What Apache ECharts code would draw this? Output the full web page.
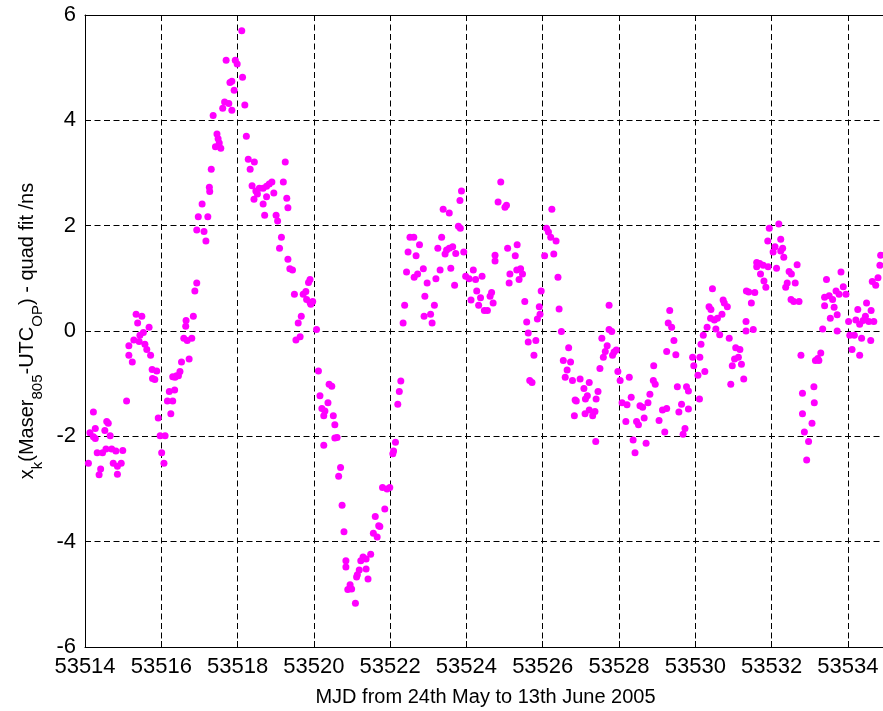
<!DOCTYPE html>
<html><head><meta charset="utf-8">
<script src="https://cdn.jsdelivr.net/npm/echarts@6/dist/echarts.min.js"></script>
<style>html,body{margin:0;padding:0;background:#fff}#c{width:883px;height:711px}</style>
</head><body><div id="c"></div>
<script>
// MJD of each measurement
var mjd = [
53514.09,53514.13,53514.22,53514.22,53514.27,53514.27,53514.32,53514.37,53514.41,53514.46,
53514.52,53514.55,53514.57,53514.61,53514.66,53514.70,53514.74,53514.81,53514.85,53514.85,
53514.95,53514.99,53515.09,53515.15,53515.15,53515.24,53515.28,53515.34,53515.38,53515.42,
53515.44,53515.49,53515.53,53515.57,53515.62,53515.68,53515.72,53515.76,53515.77,53515.83,
53515.88,53515.92,53515.97,53516.01,53516.07,53516.10,53516.16,53516.21,53516.25,53516.30,
53516.30,53516.35,53516.36,53516.40,53516.45,53516.49,53516.53,53516.59,53516.64,53516.65,
53516.68,53516.73,53516.80,53516.84,53516.88,53516.93,53516.93,53516.97,53517.07,53517.12,
53517.17,53517.22,53517.26,53517.27,53517.31,53517.36,53517.42,53517.46,53517.49,53517.52,
53517.56,53517.61,53517.66,53517.70,53517.77,53517.80,53517.85,53517.85,53517.91,53517.94,
53517.99,53518.11,53518.13,53518.19,53518.23,53518.28,53518.33,53518.38,53518.43,53518.44,
53518.48,53518.52,53518.57,53518.67,53518.67,53518.71,53518.76,53518.76,53518.83,53518.90,
53518.95,53519.01,53519.05,53519.10,53519.15,53519.20,53519.25,53519.29,53519.32,53519.32,
53519.37,53519.44,53519.49,53519.53,53519.59,53519.64,53519.67,53519.72,53519.79,53519.81,
53519.86,53519.90,53519.90,53519.92,53519.97,53520.07,53520.12,53520.16,53520.21,53520.26,
53520.26,53520.29,53520.37,53520.40,53520.47,53520.51,53520.55,53520.55,53520.61,53520.65,
53520.70,53520.74,53520.79,53520.84,53520.84,53520.89,53520.95,53520.99,53521.09,53521.12,
53521.14,53521.19,53521.23,53521.29,53521.37,53521.37,53521.42,53521.49,53521.56,53521.61,
53521.66,53521.70,53521.73,53521.86,53521.80,53521.92,53521.99,53522.07,53522.09,53522.14,
53522.20,53522.24,53522.28,53522.34,53522.38,53522.43,53522.47,53522.52,53522.62,53522.63,
53522.68,53522.72,53522.77,53522.87,53522.89,53522.91,53522.97,53523.06,53523.10,53523.16,
53523.20,53523.25,53523.31,53523.35,53523.39,53523.44,53523.48,53523.55,53523.55,53523.59,
53523.64,53523.69,53523.72,53523.79,53523.84,53523.83,53523.87,53523.93,53523.98,53524.07,
53524.12,53524.18,53524.24,53524.27,53524.32,53524.37,53524.41,53524.47,53524.55,53524.62,
53524.66,53524.70,53524.75,53524.75,53524.83,53524.90,53525.01,53525.05,53525.08,53525.12,
53525.14,53525.28,53525.32,53525.33,53525.38,53525.42,53525.47,53525.53,53525.58,53525.62,
53525.62,53525.66,53525.72,53525.77,53525.82,53525.86,53525.91,53525.93,53525.96,53526.05,
53526.10,53526.15,53526.21,53526.24,53526.29,53526.35,53526.40,53526.43,53526.49,53526.54,
53526.59,53526.64,53526.68,53526.73,53526.78,53526.85,53526.98,53527.08,53527.22,53526.88,
53526.83,53527.11,53527.12,53527.17,53527.22,53527.31,53527.37,53527.39,53527.40,53527.45,
53527.50,53527.55,53527.59,53527.64,53527.69,53527.74,53527.74,53527.81,53527.83,53527.87,
53527.93,53527.97,53528.03,53528.08,53528.18,53528.21,53528.27,53528.32,53528.37,53528.42,
53528.46,53528.51,53528.55,53528.62,53528.66,53528.71,53528.76,53528.81,53528.90,53528.91,
53528.95,53529.05,53529.14,53529.20,53529.25,53529.25,53529.29,53529.33,53529.38,53529.44,
53529.49,53529.53,53529.57,53529.64,53529.68,53529.73,53529.77,53529.82,53529.82,53529.93,
53529.96,53530.07,53530.11,53530.12,53530.15,53530.21,53530.25,53530.31,53530.36,53530.40,
53530.41,53530.45,53530.50,53530.54,53530.58,53530.64,53530.70,53530.73,53530.76,53530.84,
53530.89,53530.93,53530.97,53531.03,53531.06,53531.13,53531.17,53531.21,53531.27,53531.33,
53531.33,53531.34,53531.40,53531.47,53531.52,53531.56,53531.61,53531.61,53531.69,53531.71,
53531.78,53531.80,53531.85,53531.90,53531.91,53531.94,53532.04,53532.09,53532.13,53532.19,
53532.24,53532.24,53532.29,53532.32,53532.37,53532.41,53532.46,53532.51,53532.52,53532.58,
53532.62,53532.67,53532.72,53532.77,53532.81,53532.81,53532.86,53532.92,53532.97,53533.06,
53533.11,53533.12,53533.15,53533.21,53533.24,53533.29,53533.34,53533.39,53533.39,53533.44,
53533.51,53533.54,53533.60,53533.64,53533.69,53533.72,53533.72,53533.77,53533.82,53533.88,
53533.95,53534.02,53534.05,53534.11,53534.17,53534.21,53534.26,53534.31,53534.31,53534.36,
53534.40,53534.46,53534.49,53534.55,53534.60,53534.61,53534.64,53534.68,53534.73,53534.79,
53534.84,53534.86
];
// Maser 805 - UTC(OP) minus quadratic fit, ns
var offsetNs = [
-2.51,-1.93,-1.54,-2.01,-1.85,-2.04,-2.31,-2.73,-2.62,-2.31,
-1.89,-2.24,-1.72,-1.75,-1.99,-2.24,-2.51,-2.28,-2.57,-2.72,
-2.51,-2.27,-1.33,-0.46,-0.28,-0.59,-0.17,0.32,0.15,-0.20,
-0.08,0.28,-0.03,-0.25,-0.35,0.07,-0.46,-0.73,-0.90,-0.92,
-0.76,-1.65,-1.99,-2.31,-2.51,-1.99,-1.33,-1.15,-1.57,-1.33,
-0.87,-1.12,-0.88,-0.85,-0.85,-0.77,-0.59,-0.14,0.09,0.20,
-0.18,-0.53,-0.14,0.28,0.76,0.91,1.92,2.17,2.41,1.89,
1.71,2.17,2.73,2.65,3.07,4.09,3.50,3.74,3.65,3.57,
3.47,4.23,4.35,5.14,4.32,4.72,4.74,4.19,4.57,5.14,
5.07,5.70,4.82,4.29,3.70,3.26,3.07,2.76,2.50,3.21,
2.66,2.60,2.71,2.71,2.41,2.20,2.75,2.55,2.79,2.83,
2.62,2.20,2.09,1.57,1.78,2.83,3.21,2.52,2.34,1.36,
1.18,1.16,0.70,-0.17,0.15,-0.11,0.28,0.70,0.75,0.60,
0.92,0.98,0.54,0.51,0.56,0.03,-0.76,-1.23,-1.47,-1.61,
-2.17,-1.52,-1.36,-1.01,-1.05,-1.61,-1.78,-2.03,-2.02,-2.76,
-2.59,-3.31,-3.81,-4.36,-4.48,-4.91,-4.82,-4.90,-5.17,-4.67,
-4.63,-4.54,-4.36,-4.29,-4.33,-4.52,-4.71,-4.24,-3.84,-3.52,
-3.91,-3.70,-3.71,-3.38,-2.97,-3.00,-2.97,-2.33,-2.28,-2.11,
-1.39,-1.15,-0.95,0.15,0.49,1.12,1.50,1.78,1.78,1.02,
1.43,1.08,1.64,1.18,0.28,0.66,0.91,0.32,0.15,0.49,
0.99,1.57,1.16,1.78,2.31,1.46,1.54,1.57,2.24,1.19,
1.60,0.87,1.47,1.99,1.95,2.48,2.66,1.50,1.04,0.99,
0.59,1.16,0.98,0.76,0.49,0.63,1.04,0.39,0.39,0.66,
0.73,0.53,1.44,1.33,2.45,2.83,2.35,2.39,1.57,0.91,
1.08,1.43,1.16,1.64,0.98,1.18,1.08,0.56,0.17,-0.04,
-0.21,-0.94,-0.98,-0.46,-0.18,0.23,0.46,0.32,0.76,1.43,
1.95,1.88,1.78,2.31,1.46,1.71,1.02,0.42,-0.01,-0.56,
-0.88,-0.74,-0.32,-0.59,-0.94,-1.31,-0.91,-1.09,-0.98,-1.33,
-1.61,-1.57,-1.29,-1.23,-1.50,-1.61,-1.53,-2.10,-1.29,-1.15,
-0.71,-0.14,-0.50,-0.39,-0.28,0.49,0.03,-0.01,-0.46,-0.40,
-0.36,-0.77,-0.94,-1.36,-1.72,-1.40,-0.88,-1.26,-2.07,-2.31,
-1.72,-1.78,-1.42,-1.45,-1.65,-2.13,-1.36,-1.20,-0.94,-0.66,
-1.01,-1.70,-1.50,-1.92,-1.47,-0.39,0.15,0.39,0.07,-0.18,
-0.45,-1.06,-1.54,-1.39,-1.96,-1.85,-1.06,-1.14,-1.48,-0.50,
-0.66,-0.84,-1.29,-0.50,-0.25,-0.08,-0.77,0.07,0.46,0.24,
0.41,0.80,0.21,0.04,0.24,-0.07,0.32,0.59,0.53,0.46,
-0.14,-1.01,-0.66,-0.53,-0.32,-0.50,-0.35,-0.63,-0.91,0.18,
0.00,0.76,0.74,0.53,0.03,0.73,1.30,1.22,1.28,1.08,
1.25,0.95,0.83,1.71,1.22,1.95,1.50,1.60,1.19,2.03,
1.74,1.52,1.57,1.40,0.83,0.91,1.13,0.60,1.08,0.56,
0.91,1.26,0.56,-0.46,-1.18,-1.57,-1.92,-2.45,-2.10,-1.75,
-1.06,-1.36,-0.56,-0.52,-0.56,-0.42,0.04,0.64,0.48,0.98,
0.67,0.24,0.60,0.45,0.76,0.31,0.00,0.70,1.12,0.84,
0.70,0.18,-0.08,-0.35,-0.08,0.21,0.41,0.13,-0.46,-0.14,
0.20,0.28,0.53,0.18,-0.18,0.39,0.94,0.18,0.87,1.01,
1.25,1.44
];
var xTicks = [53514,53516,53518,53520,53522,53524,53526,53528,53530,53532,53534];
var yTicks = [-6,-4,-2,0,2,4,6];

var pts = mjd.map(function(x, i){ return [x, offsetNs[i]]; });
var FONT = '"Liberation Sans",Arial,sans-serif';
var chart = echarts.init(document.getElementById('c'), null, {renderer:'canvas'});
var dash = {color:'#000', type:[6,3.5], width:1};
chart.setOption({
  animation:false,
  backgroundColor:'#fff',
  grid:{left:85, top:15, width:801, height:632, show:false, containLabel:false, outerBoundsMode:'none'},
  xAxis:[{
    type:'value', min:53514, max:53535, interval:2,
    axisLine:{show:true, onZero:false, lineStyle:{color:'#000'}},
    axisTick:{show:true, inside:true, length:6, lineStyle:{color:'#000'}},
    axisLabel:{color:'#000', fontFamily:FONT, fontSize:22, margin:9, showMaxLabel:false,
      formatter:function(v){ return xTicks.indexOf(v) >= 0 ? String(v) : ''; }},
    splitLine:{show:true, lineStyle:dash},
    name:'MJD from 24th May to 13th June 2005', nameLocation:'middle', nameGap:40,
    nameTextStyle:{color:'#000', fontFamily:FONT, fontSize:20}
  },{
    type:'value', position:'top', min:53514, max:53535, interval:2,
    axisLine:{show:true, onZero:false, lineStyle:{color:'#000'}},
    axisTick:{show:true, inside:true, length:6, lineStyle:{color:'#000'}},
    axisLabel:{show:false}, splitLine:{show:false}
  }],
  yAxis:[{
    type:'value', min:-6, max:6, interval:2,
    axisLine:{show:true, onZero:false, lineStyle:{color:'#000'}},
    axisTick:{show:true, inside:true, length:6, lineStyle:{color:'#000'}},
    axisLabel:{color:'#000', fontFamily:FONT, fontSize:22, margin:9,
      formatter:function(v){ return yTicks.indexOf(v) >= 0 ? String(v) : ''; }},
    splitLine:{show:true, lineStyle:dash},
    name:'{m|x}{s|k}{m|(Maser}{s|805}{m|-UTC}{s|OP}{m|) - quad fit /ns}',
    nameLocation:'middle', nameGap:38,
    nameTextStyle:{color:'#000', fontFamily:FONT, fontSize:20,
      rich:{
        m:{fontFamily:FONT, fontSize:20, color:'#000', lineHeight:28, verticalAlign:'top'},
        s:{fontFamily:FONT, fontSize:15, color:'#000', lineHeight:15, verticalAlign:'bottom'}
      }}
  }],
  series:[{
    type:'scatter', xAxisIndex:0, yAxisIndex:0, data:pts,
    symbol:'circle', symbolSize:7,
    itemStyle:{color:'#ff00ff', opacity:1},
    silent:true
  }]
});
</script>
</body></html>
